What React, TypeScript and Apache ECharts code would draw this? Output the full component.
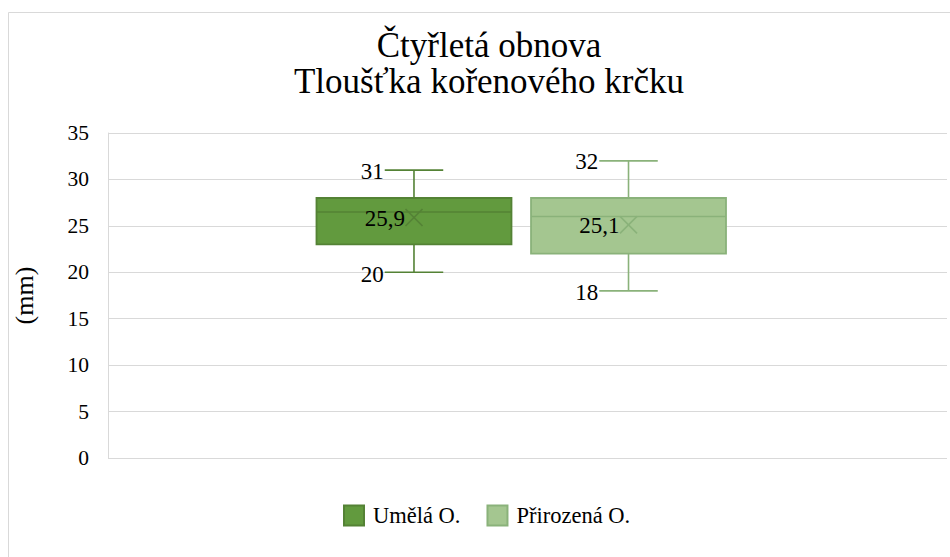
import React, { useEffect, useRef } from "react";
import * as echarts from "echarts";

const titleLines = ["Čtyřletá obnova", "Tloušťka kořenového krčku"];
const seriesNames = ["Umělá O.", "Přirozená O."];
const yTicks = [0, 5, 10, 15, 20, 25, 30, 35];
// [min, q1, median, q3, max, mean]
const umelaStats = [20, 23, 26.5, 28, 31, 25.9];
const prirozenaStats = [18, 22, 26, 28, 32, 25.1];
const fillColors = ["#629a3e", "#a4c690"];
const lineColors = ["#548235", "#8ab27a"];
const boxOffsets = [-0.1353, 0.1204]; // fraction of band width
const boxWidthFrac = 0.2324;
const font = "Liberation Serif";

const fmt = (v: number) => String(v).replace(".", ",");

function makeRender(idx: number) {
  return function (params: any, api: any) {
    const mn = api.value(1), q1 = api.value(2), md = api.value(3), q3 = api.value(4), mx = api.value(5), mean = api.value(6);
    const band = api.size([1, 0])[0];
    const cx = api.coord([0, 0])[0] + boxOffsets[idx] * band;
    const w = boxWidthFrac * band;
    const yMin = api.coord([0, mn])[1];
    const yQ1 = api.coord([0, q1])[1];
    const yMd = api.coord([0, md])[1];
    const yQ3 = api.coord([0, q3])[1];
    const yMax = api.coord([0, mx])[1];
    const yMean = api.coord([0, mean])[1];
    const cap = w * 0.3;
    const lc = lineColors[idx];
    const ls = { stroke: lc, lineWidth: 1.6 };
    const xs = 8.5;
    const labelStyle = (text: string, x: number, y: number) => ({
      type: "text",
      style: { text, x, y, align: "right", verticalAlign: "middle", fontFamily: font, fontSize: 23, fill: "#000" },
      z2: 10,
    });
    return {
      type: "group",
      children: [
        { type: "line", shape: { x1: cx, y1: yQ3, x2: cx, y2: yMax }, style: ls },
        { type: "line", shape: { x1: cx, y1: yQ1, x2: cx, y2: yMin }, style: ls },
        { type: "line", shape: { x1: cx - cap / 2, y1: yMax, x2: cx + cap / 2, y2: yMax }, style: ls },
        { type: "line", shape: { x1: cx - cap / 2, y1: yMin, x2: cx + cap / 2, y2: yMin }, style: ls },
        {
          type: "rect",
          shape: { x: cx - w / 2, y: yQ3, width: w, height: yQ1 - yQ3 },
          style: { fill: fillColors[idx], stroke: lc, lineWidth: 1.8 },
        },
        { type: "line", shape: { x1: cx - w / 2, y1: yMd, x2: cx + w / 2, y2: yMd }, style: ls },
        { type: "line", shape: { x1: cx - xs, y1: yMean - xs, x2: cx + xs, y2: yMean + xs }, style: ls },
        { type: "line", shape: { x1: cx - xs, y1: yMean + xs, x2: cx + xs, y2: yMean - xs }, style: ls },
        labelStyle(String(mx), cx - cap / 2 - 1, yMax + 1),
        labelStyle(String(mn), cx - cap / 2 - 1, yMin + 2),
        labelStyle(fmt(mean), cx - xs - 0.5, yMean + 1),
      ],
    };
  };
}

export default function App() {
  const ref = useRef<HTMLDivElement>(null);
  useEffect(() => {
    if (!ref.current) return;
    const chart = echarts.init(ref.current, undefined, { renderer: "svg" });
    const allStats = [umelaStats, prirozenaStats];
    chart.setOption({
      animation: false,
      backgroundColor: "#ffffff",
      title: {
        text: titleLines.join("\n"),
        left: 484,
        textAlign: "center",
        top: 22,
        textStyle: { fontFamily: font, fontSize: 35, fontWeight: "normal", color: "#000", lineHeight: 36 },
      },
      graphic: [
        {
          type: "rect",
          shape: { x: 8.5, y: 12.5, width: 1000, height: 600 },
          style: { fill: "none", stroke: "#d9d9d9", lineWidth: 1 },
          silent: true,
        },
      ],
      legend: {
        left: 343,
        top: 504,
        padding: 0,
        itemWidth: 20,
        itemHeight: 20,
        itemGap: 26,
        icon: "rect",
        textStyle: { fontFamily: font, fontSize: 22.5, color: "#000", padding: [0, 0, 0, 4] },
        data: seriesNames,
      },
      grid: { left: 108, right: 3, top: 133, bottom: 99 },
      xAxis: {
        type: "category",
        data: [""],
        axisLine: { show: false },
        axisTick: { show: false },
        axisLabel: { show: false },
      },
      yAxis: {
        type: "value",
        min: yTicks[0],
        max: yTicks[yTicks.length - 1],
        interval: 5,
        name: "(mm)",
        nameLocation: "middle",
        nameGap: 71,
        nameRotate: 90,
        nameTextStyle: { fontFamily: font, fontSize: 26, color: "#000" },
        axisLine: { show: true, lineStyle: { color: "#d9d9d9", width: 1 } },
        axisTick: { show: false },
        axisLabel: { fontFamily: font, fontSize: 21.5, color: "#000", margin: 19 },
        splitLine: { lineStyle: { color: "#d9d9d9", width: 1.2 } },
      },
      series: seriesNames.map((name, i) => ({
        name,
        type: "custom",
        renderItem: makeRender(i),
        itemStyle: { color: fillColors[i], borderColor: lineColors[i], borderWidth: 1.5 },
        encode: { x: 0, y: [1, 2, 3, 4, 5] },
        data: [[0, ...allStats[i]]],
      })),
    });
    return () => chart.dispose();
  }, []);
  return (
    <div
      ref={ref}
      style={{ position: "fixed", left: 0, top: 0, width: 950, height: 557, background: "#fff" }}
    />
  );
}
